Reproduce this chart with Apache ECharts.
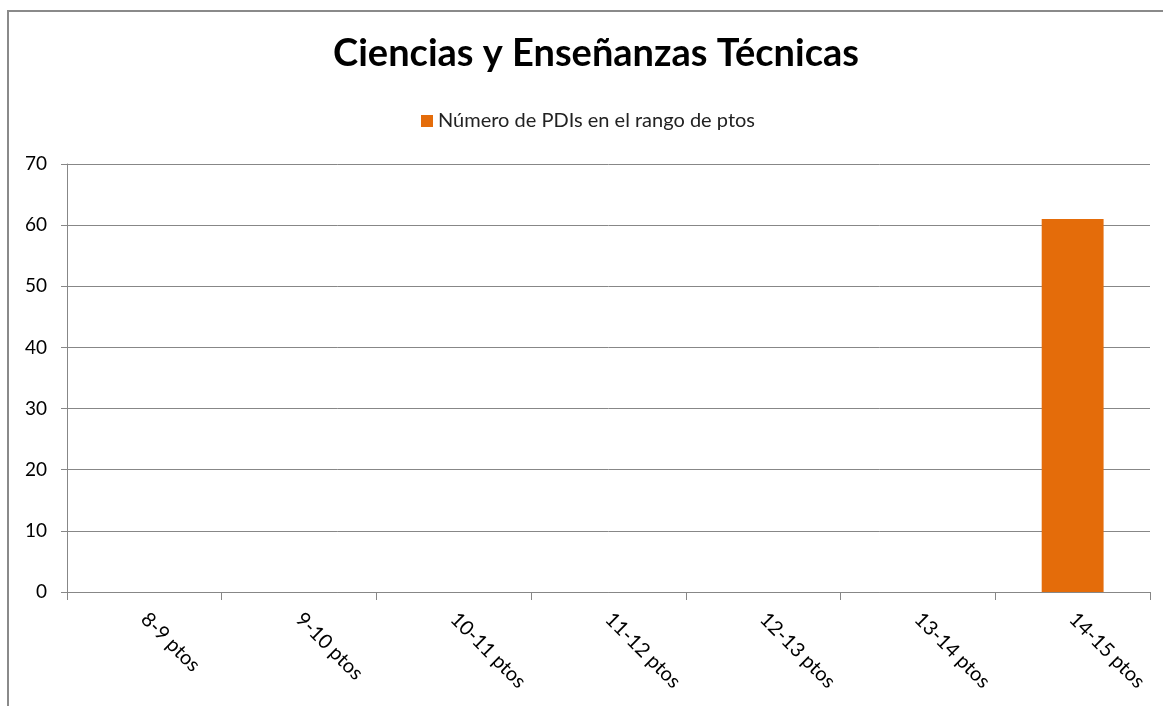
<!DOCTYPE html>
<html>
<head>
<meta charset="utf-8" />
<script src="https://cdn.jsdelivr.net/npm/echarts@6/dist/echarts.min.js"></script>
<title>Ciencias y Enseñanzas Técnicas</title>
</head>
<body style="margin:0;background:#fff;">
<div id="main" style="width:1163px;height:706px;"></div>
<script type="text/javascript">
// datos del gráfico
var categorias = ['8-9 ptos', '9-10 ptos', '10-11 ptos', '11-12 ptos', '12-13 ptos', '13-14 ptos', '14-15 ptos'];
var valores = [0, 0, 0, 0, 0, 0, 61];
var serieNombre = 'Número de PDIs en el rango de ptos';
var tituloTexto = 'Ciencias y Enseñanzas Técnicas';

var fuente = 'Lato, "Open Sans", sans-serif';
var gris = '#878787';

var myChart = echarts.init(document.getElementById('main'));
var option = {
  animation: false,
  backgroundColor: '#fff',
  title: {
    text: tituloTexto,
    left: 591,
    top: 30,
    textAlign: 'center',
    textStyle: { fontFamily: fuente, fontSize: 38, fontWeight: 'bold', color: '#000' }
  },
  legend: {
    data: [serieNombre],
    left: 416,
    top: 106,
    itemWidth: 12,
    itemHeight: 12,
    itemGap: 6,
    icon: 'rect',
    textStyle: { fontFamily: fuente, fontSize: 20, color: '#222' }
  },
  // marco del gráfico
  graphic: [{
    type: 'rect',
    shape: { x: 8, y: 11, width: 1300, height: 900 },
    style: { fill: 'none', stroke: '#8a8a8a', lineWidth: 2 },
    silent: true
  }],
  grid: { left: 67, right: 13, top: 164, bottom: 114, containLabel: false },
  xAxis: {
    type: 'category',
    data: categorias,
    axisLine: { lineStyle: { color: gris, width: 1 } },
    axisTick: { show: true, length: 8, lineStyle: { color: gris } },
    axisLabel: { rotate: -45, margin: 24, fontFamily: fuente, fontSize: 20, color: '#000' },
    splitLine: { show: false }
  },
  yAxis: {
    type: 'value',
    min: 0,
    max: 70,
    interval: 10,
    axisLine: { show: true, lineStyle: { color: gris, width: 1 } },
    axisTick: { show: true, length: 6, lineStyle: { color: gris } },
    axisLabel: { margin: 20, fontFamily: fuente, fontSize: 19, color: '#000' },
    splitLine: { show: true, lineStyle: { color: gris, width: 1 } }
  },
  series: [{
    name: serieNombre,
    type: 'bar',
    data: valores,
    barWidth: '40%',
    itemStyle: { color: '#E46C0A' }
  }]
};
myChart.setOption(option);
</script>
</body>
</html>
